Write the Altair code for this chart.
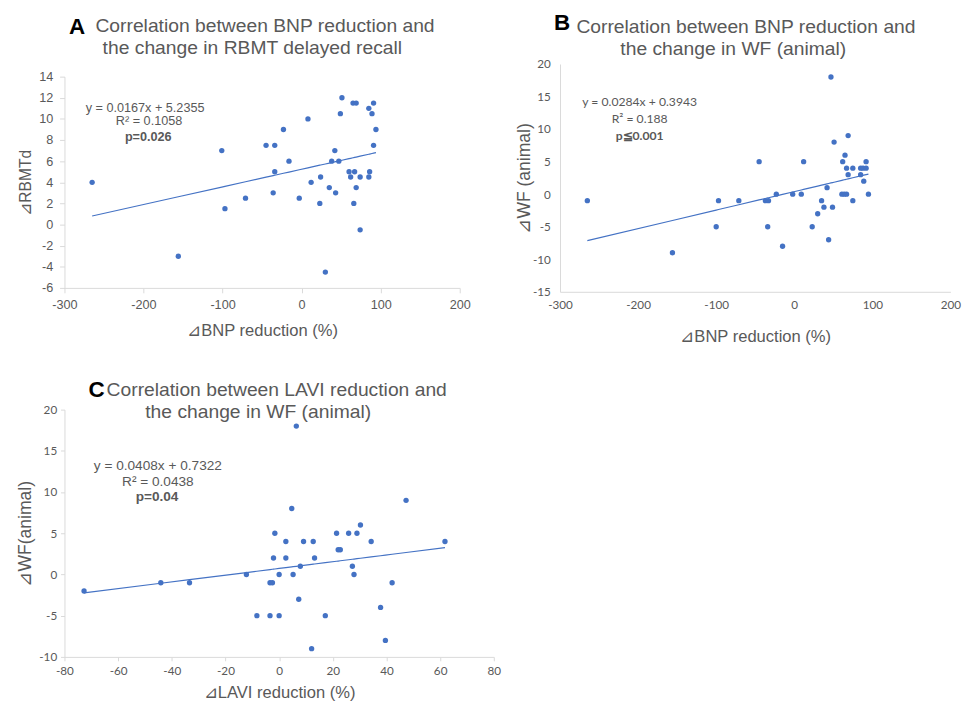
import altair as alt
import pandas as pd

BLUE = "#4472C4"
GRAY = "#595959"
AXIS = "#d9d9d9"

# ---------------- Panel A data ----------------
a_bnp = [-265, -156, -101, -97, -71, -45, -34, -34, -36, -23, -16, -3, 8, 12, 24, 23,
         30, 35, 38, 42, 43, 47, 49, 51, 60, 62, 65, 69, 67, 66, 69, 74, 74, 85, 86, 85,
         89, 91, 91, 94]
a_rbmt = [4, -3, 7, 1.5, 2.5, 7.5, 7.5, 5, 3, 9, 6, 2.5, 10, 4, 4.5, 2, -4.5, 3.5, 6, 7,
          3, 6, 10.5, 12, 5, 4.5, 11.5, 11.5, 5, 2, 3.5, 4.5, -0.5, 11, 5, 4.5, 10.5, 11.5,
          7.5, 9]
a_fit = [0.0167, 5.2355]

# ---------------- Panel B data ----------------
b_bnp = [-265, -156, -100, -97, -71, -45, -37, -33, -34, -23, -15, -2, 9, 12, 23, 30, 35,
         38, 42, 44, 47, 49, 51, 61, 62, 65, 64, 67, 67, 69, 69, 75, 75, 85, 85, 88, 89,
         92, 92, 95]
b_wf = [-1, -9, -5, -1, -1, 5, -1, -1, -5, 0, -8, 0, 0, 5, -5, -3, -1, -2, 1, -7, 18, -2,
        8, 0, 5, 6, 0, 0, 4, 9, 3, -1, 4, 3, 4, 4, 2, 4, 5, 0]
b_fit = [0.0284, 0.3943]

# ---------------- Panel C data ----------------
c_lavi = [-72.7, -44.1, -33.4, -12.2, -8.3, -3.4, -2.5, -3.4, -1.6, -2.1, 0, 0, 2.5, 2.5,
          4.7, 5.2, 6.4, 7.3, 7.9, 9.1, 12.1, 12.7, 13.2, 17.2, 21.4, 22, 22.8, 25.9, 27.3,
          27.9, 29, 30.3, 34.3, 37.8, 39.6, 42.1, 47.3, 61.8]
c_wf = [-2, -1, -1, 0, -5, -1, -1, -5, 5, 2, 0, -5, 4, 2, 8, 0, 18, -3, 1, 4, -9, 4, 2, -5,
        5, 3, 3, 5, 1, 0, 5, 6, 4, -4, -8, -1, 9, 4]
c_fit = [0.0408, 0.7322]

# ---------------- Texts ----------------
titles = {
    "A": ["Correlation between BNP reduction and", "the change in RBMT delayed recall"],
    "B": ["Correlation between BNP reduction and", "the change in WF (animal)"],
    "C": ["Correlation between LAVI reduction and", "the change in WF (animal)"],
}
eq_text = {
    "A": ["y = 0.0167x + 5.2355", "R\u00b2 = 0.1058", "p=0.026"],
    "B": ["y = 0.0284x + 0.3943", "R\u00b2 = 0.188", "p\u22660.001"],
    "C": ["y = 0.0408x + 0.7322", "R\u00b2 = 0.0438", "p=0.04"],
}


def txt(s, x, y, **kw):
    return alt.Chart(pd.DataFrame({"t": [s]})).mark_text(**kw).encode(
        x=alt.value(x), y=alt.value(y), text="t:N"
    )


def panel(letter, xs, ys, fit, xdom, xstep, ydom, ystep, xtitle, ytitle, w, h,
          eq_x, eq_y, cfg, top_gap=0):
    df = pd.DataFrame({"x": xs, "y": ys})
    xvals = list(range(xdom[0], xdom[1] + 1, xstep))
    yvals = list(range(ydom[0], ydom[1] + 1, ystep))
    xscale = alt.Scale(domain=xdom, nice=False, zero=False)
    if top_gap:
        yscale = alt.Scale(domain=ydom, nice=False, zero=False, range=[h + top_gap, top_gap])
    else:
        yscale = alt.Scale(domain=ydom, nice=False, zero=False)
    xaxis = alt.Axis(values=xvals, title=xtitle, labelFont=cfg["lfont"],
                     labelFontSize=cfg["lsize"], tickSize=cfg["tick"],
                     labelPadding=cfg["xlpad"], titleFont="Liberation Sans",
                     titleFontSize=17, titlePadding=cfg["xtpad"],
                     labelExpr="datum.value + ''", labelFlush=False,
                     labelOverlap=False)
    yaxis = alt.Axis(values=yvals, title=ytitle, labelFont=cfg["lfont"],
                     labelFontSize=cfg["lsize"], tickSize=cfg["tick"],
                     labelPadding=cfg["ylpad"], titleFont="Liberation Sans",
                     titleFontSize=cfg["ytsize"], titlePadding=cfg["ytpad"],
                     labelExpr="datum.value + ''", labelFlush=False,
                     labelOverlap=False)
    X = lambda f: alt.X(f, scale=xscale, axis=xaxis)
    Y = lambda f: alt.Y(f, scale=yscale, axis=yaxis)
    base = alt.Chart(df)
    pts = base.mark_circle(size=30, color=BLUE, opacity=1).encode(
        x=X("x:Q"), y=Y("y:Q"),
    )
    line = base.transform_calculate(
        fit=f"{fit[0]} * datum.x + {fit[1]}"
    ).mark_line(color=BLUE, strokeWidth=1.2).encode(
        x=X("x:Q"), y=Y("fit:Q").title(ytitle), order="x:Q"
    )
    t = eq_text[letter]
    ann_df = pd.DataFrame({"x": eq_x[:2], "y": eq_y[:2], "t": t[:2]})
    ann = alt.Chart(ann_df).mark_text(
        font=cfg["afont"], fontSize=cfg["asize"], color=GRAY, baseline="middle", align="center"
    ).encode(x=X("x:Q"), y=Y("y:Q"), text="t:N")
    bold_df = pd.DataFrame({"x": eq_x[2:], "y": eq_y[2:], "t": t[2:]})
    bold = alt.Chart(bold_df).mark_text(
        font=cfg["afont"], fontSize=cfg["asize"], color=GRAY, fontWeight="bold",
        baseline="middle", align="center"
    ).encode(x=X("x:Q"), y=Y("y:Q"), text="t:N")
    tkw = dict(font="Liberation Sans", fontSize=19.8, color=GRAY,
               baseline="alphabetic", align="center")
    ty = cfg["ty"] + top_gap
    title1 = txt(titles[letter][0], cfg["tx"][0], ty, **tkw)
    title2 = txt(titles[letter][1], cfg["tx"][1], ty + 23, **tkw)
    let = txt(letter, cfg["lx"], cfg["ly"] + top_gap, font="Liberation Sans", fontSize=23,
              fontWeight="bold", color="black", baseline="alphabetic", align="center")
    layers = [pts, line, ann, bold, title1, title2, let]
    return alt.layer(*layers).properties(width=w, height=h + top_gap)


chart_a = panel(
    "A", a_bnp, a_rbmt, a_fit, [-300, 200], 100, [-6, 14], 2,
    "\u22bfBNP reduction (%)", "\u22bfRBMTd", 406, 217,
    [-198, -193, -194], [11.0, 9.8, 8.3],
    dict(lfont="Liberation Sans", lsize=13, tick=5, xlpad=6, ylpad=7, xtpad=12,
         ytsize=16, ytpad=5, afont="Liberation Sans", asize=13,
         lx=13, ly=-44, tx=[206, 193], ty=-46),
    top_gap=13,
)
chart_b = panel(
    "B", b_bnp, b_wf, b_fit, [-300, 200], 100, [-15, 20], 5,
    "\u22bfBNP reduction (%)", "\u22bfWF (animal)", 401, 234,
    [-198, -198, -198], [14.2, 11.6, 8.9],
    dict(lfont="Lato", lsize=12, tick=0, xlpad=8, ylpad=10, xtpad=19,
         ytsize=18, ytpad=-1, afont="Lato", asize=12.5,
         lx=2, ly=-35, tx=[191, 178], ty=-32),
)
chart_c = panel(
    "C", c_lavi, c_wf, c_fit, [-80, 80], 20, [-10, 20], 5,
    "\u22bfLAVI reduction (%)", "\u22bfWF(animal)", 441, 254,
    [-45.2, -45.2, -45.5], [13.15, 11.26, 9.37],
    dict(lfont="Lato", lsize=12, tick=4, xlpad=5, ylpad=4, xtpad=9,
         ytsize=18, ytpad=4, afont="Liberation Sans", asize=14,
         lx=33, ly=-13, tx=[218, 199], ty=-14),
)

top = alt.hconcat(chart_a, chart_b, spacing=46)
chart = alt.vconcat(top, chart_c, spacing=36).properties(
    padding={"left": 9, "top": -5, "right": 5, "bottom": 0}
).configure_view(stroke=None).configure_axis(
    grid=False, domainColor=AXIS, tickColor=AXIS, labelColor=GRAY,
    titleColor=GRAY, titleFontWeight="normal", labelOverlap=False
)

chart.save("out.html", embed_options={"renderer": "svg", "actions": False})
